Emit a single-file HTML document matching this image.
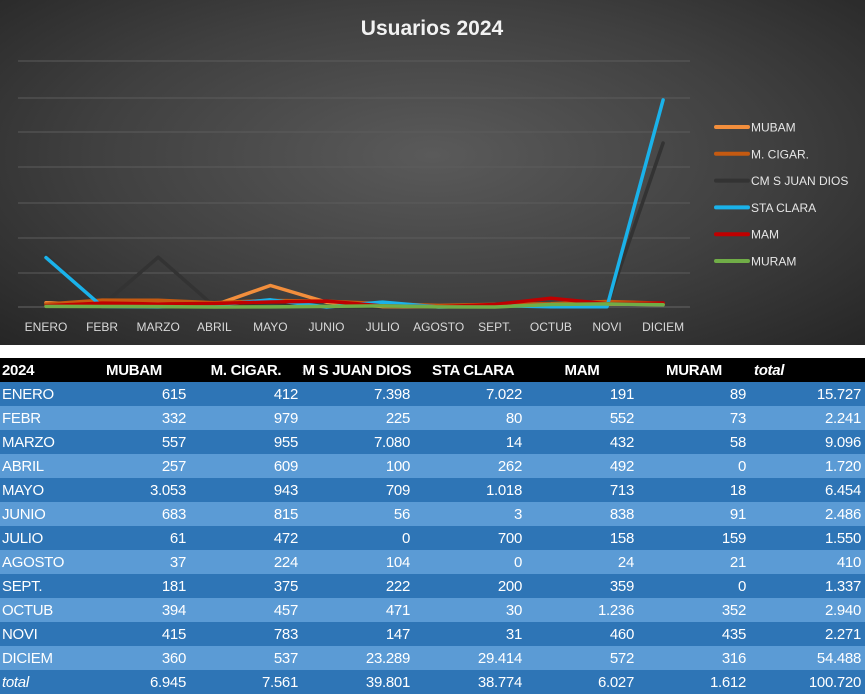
<!DOCTYPE html>
<html><head><meta charset="utf-8"><style>
body{margin:0;width:865px;height:694px;overflow:hidden;background:#fff;font-family:"Liberation Sans",sans-serif;}
#chart{position:absolute;left:0;top:0;width:865px;height:345px;background:radial-gradient(ellipse at 50% 45%,#5a5a5a 0%,#404040 55%,#262626 100%);}
table{position:absolute;left:0;top:358px;border-collapse:collapse;table-layout:fixed;width:865px;}
td{height:24px;padding:0 4px;font-size:15px;color:#fff;text-align:right;white-space:nowrap;overflow:hidden;letter-spacing:-0.3px;}
td:first-child{text-align:left;padding-left:2px;}
tr.h td{background:#000;font-weight:bold;text-align:center;}
tr.h td:first-child{text-align:left;}
tr:nth-child(even) td{background:#2e75b6;}
tr:nth-child(odd):not(.h) td{background:#5b9bd5;}
</style></head><body>
<div id="chart"><svg id="s" width="865" height="345" xmlns="http://www.w3.org/2000/svg">
<text x="432" y="35" text-anchor="middle" font-family="Liberation Sans" font-weight="bold" font-size="21" fill="#f2f2f2">Usuarios 2024</text>
</svg></div>
<table>
<colgroup><col style="width:78px"><col style="width:112px"><col style="width:112px"><col style="width:112px"><col style="width:112px"><col style="width:112px"><col style="width:112px"><col style="width:115px"></colgroup>
<tr class="h"><td>2024</td><td>MUBAM</td><td>M. CIGAR.</td><td style="text-align:left;padding-left:0;text-indent:-10px">CM S JUAN DIOS</td><td style="text-align:left;padding-left:18px">STA CLARA</td><td>MAM</td><td>MURAM</td><td style="text-align:left;font-style:italic">total</td></tr>
<tr><td>ENERO</td><td>615</td><td>412</td><td>7.398</td><td>7.022</td><td>191</td><td>89</td><td>15.727</td></tr>
<tr><td>FEBR</td><td>332</td><td>979</td><td>225</td><td>80</td><td>552</td><td>73</td><td>2.241</td></tr>
<tr><td>MARZO</td><td>557</td><td>955</td><td>7.080</td><td>14</td><td>432</td><td>58</td><td>9.096</td></tr>
<tr><td>ABRIL</td><td>257</td><td>609</td><td>100</td><td>262</td><td>492</td><td>0</td><td>1.720</td></tr>
<tr><td>MAYO</td><td>3.053</td><td>943</td><td>709</td><td>1.018</td><td>713</td><td>18</td><td>6.454</td></tr>
<tr><td>JUNIO</td><td>683</td><td>815</td><td>56</td><td>3</td><td>838</td><td>91</td><td>2.486</td></tr>
<tr><td>JULIO</td><td>61</td><td>472</td><td>0</td><td>700</td><td>158</td><td>159</td><td>1.550</td></tr>
<tr><td>AGOSTO</td><td>37</td><td>224</td><td>104</td><td>0</td><td>24</td><td>21</td><td>410</td></tr>
<tr><td>SEPT.</td><td>181</td><td>375</td><td>222</td><td>200</td><td>359</td><td>0</td><td>1.337</td></tr>
<tr><td>OCTUB</td><td>394</td><td>457</td><td>471</td><td>30</td><td>1.236</td><td>352</td><td>2.940</td></tr>
<tr><td>NOVI</td><td>415</td><td>783</td><td>147</td><td>31</td><td>460</td><td>435</td><td>2.271</td></tr>
<tr><td>DICIEM</td><td>360</td><td>537</td><td>23.289</td><td>29.414</td><td>572</td><td>316</td><td>54.488</td></tr>
<tr><td style="font-style:italic">total</td><td>6.945</td><td>7.561</td><td>39.801</td><td>38.774</td><td>6.027</td><td>1.612</td><td>100.720</td></tr>
</table>
<script>
var s=document.getElementById('s'),h='';
[61,98,132,167,203,238,273].forEach(function(y){h+='<line x1="18" x2="690" y1="'+y+'" y2="'+y+'" stroke="#5c5c5c" stroke-width="1"/>';});
h+='<line x1="18" x2="690" y1="307" y2="307" stroke="#666" stroke-width="1"/>';
var m=['ENERO','FEBR','MARZO','ABRIL','MAYO','JUNIO','JULIO','AGOSTO','SEPT.','OCTUB','NOVI','DICIEM'];
m.forEach(function(t,i){h+='<text x="'+(46+56.1*i)+'" y="331" text-anchor="middle" font-family="Liberation Sans" font-size="12" fill="#d9d9d9">'+t+'</text>';});
var S=[
['MUBAM','#f28e3c',[615,332,557,257,3053,683,61,37,181,394,415,360]],
['M. CIGAR.','#c55a11',[412,979,955,609,943,815,472,224,375,457,783,537]],
['CM S JUAN DIOS','#333333',[7398,225,7080,100,709,56,0,104,222,471,147,23289]],
['STA CLARA','#1ab2ea',[7022,80,14,262,1018,3,700,0,200,30,31,29414]],
['MAM','#c00000',[191,552,432,492,713,838,158,24,359,1236,460,572]],
['MURAM','#70ad47',[89,73,58,0,18,91,159,21,0,352,435,316]]];
[2,0,1,3,4,5].forEach(function(k){var d=S[k];var p=d[2].map(function(v,i){return (46+56.1*i).toFixed(1)+','+(307-v*0.00704).toFixed(1);}).join(' ');
h+='<polyline points="'+p+'" fill="none" stroke="'+d[1]+'" stroke-width="3.5" stroke-linejoin="round" stroke-linecap="round"/>';});
S.forEach(function(d,i){var y=127+26.8*i;h+='<line x1="716" x2="748" y1="'+y+'" y2="'+y+'" stroke="'+d[1]+'" stroke-width="4" stroke-linecap="round"/><text x="751" y="'+(y+4.5)+'" font-family="Liberation Sans" font-size="12" fill="#e6e6e6">'+d[0]+'</text>';});
s.insertAdjacentHTML('beforeend',h);
</script>
</body></html>
